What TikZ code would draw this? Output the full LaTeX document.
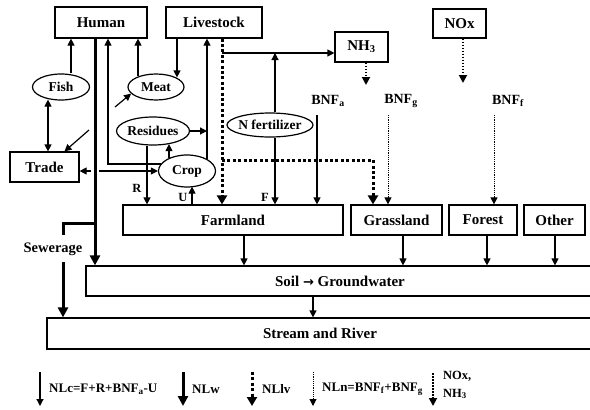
\documentclass[tikz,border=0pt]{standalone}
\usepackage{fontspec}
\setmainfont{Liberation Serif}
\newfontfamily\arrowfont{DejaVu Sans}
\usetikzlibrary{arrows.meta,shapes.geometric,calc}
\begin{document}
\begin{tikzpicture}[x=1pt,y=-1pt,
  box/.style={draw,line width=1.2pt,rectangle,inner sep=0pt,font=\bfseries\fontsize{15}{15}\selectfont},
  ell/.style={draw,line width=1.2pt,ellipse,inner sep=0pt},
  elltxt/.style={font=\bfseries\fontsize{13.5}{14}\selectfont},
  lab/.style={font=\bfseries\fontsize{14}{14}\selectfont,inner sep=0pt},
  small/.style={font=\bfseries\fontsize{12.5}{13}\selectfont,inner sep=0pt},
  leg/.style={font=\bfseries\fontsize{13}{13}\selectfont,inner sep=0pt,anchor=west},
  arr/.style={line width=1.2pt,-{Triangle[length=7pt,width=7pt]}},
  darr/.style={line width=1.2pt,{Triangle[length=7pt,width=7pt]}-{Triangle[length=7pt,width=7pt]}},
  thickline/.style={line width=3pt},
  thickarr/.style={line width=3pt,-{Triangle[length=10pt,width=10pt]}},
  tdotarr/.style={line width=3pt,dash pattern=on 3pt off 2.4pt,-{Triangle[length=9pt,width=10pt]}},
  dotarr/.style={line width=1pt,dash pattern=on 1.1pt off 1.1pt,-{Triangle[length=7pt,width=7pt]}},
  mdotarr/.style={line width=1.8pt,dash pattern=on 1.6pt off 1.4pt,-{Triangle[length=8pt,width=8pt]}}
]
\useasboundingbox (0,0) rectangle (590,410);
\clip (0,0) rectangle (590,410);

% boxes
\node[box,minimum width=92pt,minimum height=31pt] (human) at (101,22.5) {Human};
\node[box,minimum width=96pt,minimum height=31pt] (livestock) at (214,22.5) {Livestock};
\node[box,minimum width=53pt,minimum height=30pt] (nh3) at (361.5,47) {NH\textsubscript{3}};
\node[box,minimum width=53pt,minimum height=29pt] (nox) at (459.5,23.5) {NOx};
\node[box,minimum width=69pt,minimum height=30pt] (trade) at (44.5,167) {Trade};
\node[box,minimum width=220pt,minimum height=30pt] (farmland) at (233,220) {Farmland};
\node[box,minimum width=91pt,minimum height=30pt] (grassland) at (396.5,220) {Grassland};
\node[box,minimum width=68pt,minimum height=30pt] (forest) at (483,220) {Forest};
\node[box,minimum width=61pt,minimum height=30pt] (other) at (554.5,220) {Other};
\node[box,minimum width=514pt,minimum height=30pt] (soil) at (343,281) {};
\node[box,draw=none] at (340,281.5) {Soil {\arrowfont\bfseries\fontsize{13}{13}\selectfont →} Groundwater};
\node[box,minimum width=553pt,minimum height=31pt] (stream) at (323.5,333.5) {};
\node[box,draw=none] at (320,333) {Stream and River};

% ellipses
\node[ell,minimum width=57pt,minimum height=26pt,label={[elltxt]center:Fish}] (fish) at (61,87) {};
\node[ell,minimum width=56pt,minimum height=26pt,label={[elltxt]center:Meat}] (meat) at (156,87) {};
\node[ell,minimum width=73pt,minimum height=28pt,label={[elltxt]center:Residues}] (res) at (153,131) {};
\node[ell,minimum width=57pt,minimum height=32pt,label={[elltxt]center:Crop}] (crop) at (187,171) {};
\node[ell,minimum width=86pt,minimum height=24pt,label={[elltxt]center:N fertilizer}] (nf) at (270,125) {};

% fish / trade / meat
\draw[arr] ([xshift=10pt]fish.north) -- ([xshift=10pt]fish.north |- human.south);
\draw[darr] ([xshift=-13pt,yshift=1pt]fish.south) -- ([xshift=-13pt]fish.south |- trade.north);
\coordinate (tin) at (89,130);
\draw[arr] (tin) -- ([xshift=20pt]trade.north);
\draw[arr] ([xshift=-18pt,yshift=-3pt]meat.north) -- ([xshift=-18pt]meat.north |- human.south);
\draw[arr] ([xshift=-37pt]livestock.south) -- ([xshift=21pt,yshift=-4pt]meat.north);
\coordinate (min) at (115,107);
\draw[arr] (min) -- (meat.195);

% trade <-> crop
\draw[darr] (crop.west) -- (crop.west -| trade.east);
\fill[white] (91,165) rectangle (99,177);

% human thick line + sewerage
\draw[thickarr] ([xshift=-6pt]human.south) -- ([xshift=-6pt]human.south |- soil.north);
\coordinate (sw1) at (95,223);
\coordinate (sw2) at (63,235);
\coordinate (sw3) at (63,262);
\draw[thickline] (sw1) -| (sw2);
\node[font=\bfseries\fontsize{14.5}{15}\selectfont,inner sep=0pt] (sew) at (53,249) {Sewerage};
\draw[thickarr] (sw3) -- (sw3 |- stream.north);

% crop connections
\draw[arr] (crop.165) -| ([xshift=7pt]human.south);
\coordinate (cl) at ([xshift=20pt,yshift=-5pt]crop.north);
\draw[arr] (cl) -- (cl |- livestock.south);
\draw[arr] (res.east) -- (res.east -| cl);
\draw[arr] ([xshift=-18pt,yshift=-3.5pt]crop.north) -- ([xshift=16pt,yshift=1.5pt]res.south);
\draw[arr] ([xshift=-6pt]res.south) -- ([xshift=-6pt]res.south |- farmland.north);
\node[small] at (137,188) {R};
\coordinate (ub) at ([xshift=5pt]crop.south |- farmland.north);
\draw[arr] (ub) -- ([xshift=5pt,yshift=1pt]crop.south);
\node[small] at (183,197) {U};

% livestock thick dotted
\coordinate (ld) at ([xshift=8pt]livestock.south);
\draw[tdotarr] (ld) -- (ld |- farmland.north);
\coordinate (lh) at (222,160);
\draw[tdotarr] (lh) -| ([xshift=-23.5pt]grassland.north);

% to NH3
\coordinate (lv) at (222,53);
\draw[arr] (lv) -- (lv -| nh3.west);

% N fertilizer
\draw[arr] ([xshift=5pt]nf.north) -- ([xshift=5pt]nf.north |- lv);
\draw[arr] ([xshift=5pt]nf.south) -- ([xshift=5pt]nf.south |- farmland.north);
\node[small] at (265,197) {F};

% BNF
\node[lab] (bnfa) at (328,101) {BNF\textsubscript{a}};
\node[lab] (bnfg) at (401,101) {BNF\textsubscript{g}};
\node[lab] (bnff) at (508,101) {BNF\textsubscript{f}};
\coordinate (ba) at (317,115);
\draw[arr] (ba) -- (ba |- farmland.north);
\coordinate (bg) at (388,115);
\draw[dotarr] (bg) -- (bg |- grassland.north);
\coordinate (bf) at (494,115);
\draw[dotarr] (bf) -- (bf |- forest.north);

% NH3, NOx deposition
\coordinate (nhd) at (366,85);
\draw[mdotarr] ([xshift=4.5pt]nh3.south) -- (nhd);
\coordinate (noxd) at (463,83);
\draw[mdotarr] ([xshift=3.5pt]nox.south) -- (noxd);

% to soil and stream
\draw[arr] ([xshift=11pt]farmland.south) -- ([xshift=11pt]farmland.south |- soil.north);
\draw[arr] ([xshift=6.5pt]grassland.south) -- ([xshift=6.5pt]grassland.south |- soil.north);
\draw[arr] ([xshift=4pt]forest.south) -- ([xshift=4pt]forest.south |- soil.north);
\draw[arr] ([xshift=0.5pt]other.south) -- ([xshift=0.5pt]other.south |- soil.north);
\draw[arr] ([xshift=-30pt]soil.south) -- ([xshift=-30pt]soil.south |- stream.north);

% legend
\coordinate (g1a) at (40,372); \coordinate (g1b) at (40,406);
\draw[arr] (g1a) -- (g1b);
\node[leg] at (49,389) {NLc=F+R+BNF\textsubscript{a}-U};
\coordinate (g2a) at (183,372); \coordinate (g2b) at (183,406);
\draw[thickarr] (g2a) -- (g2b);
\node[leg] at (192,389) {NLw};
\coordinate (g3a) at (252,372); \coordinate (g3b) at (252,406);
\draw[tdotarr] (g3a) -- (g3b);
\node[leg] at (262,389) {NLlv};
\coordinate (g4a) at (313,372); \coordinate (g4b) at (313,406);
\draw[dotarr] (g4a) -- (g4b);
\node[leg] at (322,389) {NLn=BNF\textsubscript{f}+BNF\textsubscript{g}};
\coordinate (g5a) at (433,373); \coordinate (g5b) at (433,406);
\draw[mdotarr] (g5a) -- (g5b);
\node[leg,font=\bfseries\fontsize{12.5}{13}\selectfont] at (443,376) {NOx,};
\node[leg,font=\bfseries\fontsize{12.5}{13}\selectfont] at (443,394) {NH\textsubscript{3}};
\end{tikzpicture}
\end{document}
